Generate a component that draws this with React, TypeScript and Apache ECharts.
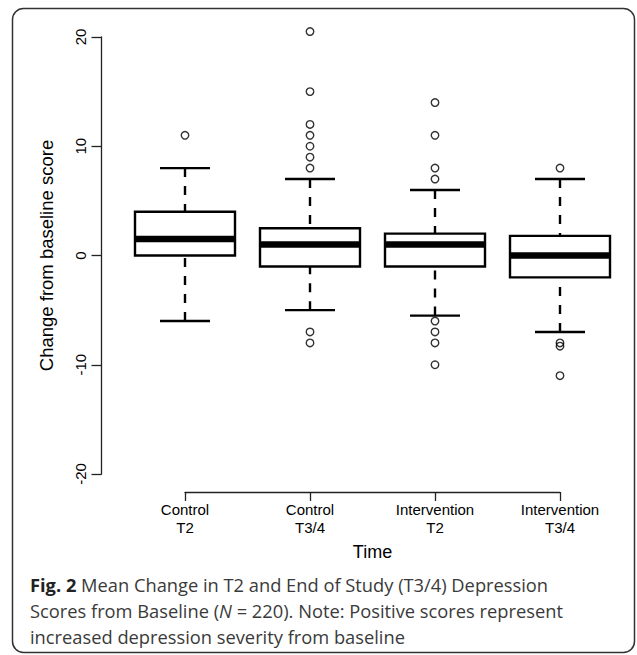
import React, { useEffect, useRef } from "react";
import * as echarts from "echarts";

const categories = ["Control\nT2", "Control\nT3/4", "Intervention\nT2", "Intervention\nT3/4"];
const lowerWhisker = [-6, -5, -5.5, -7];
const q1 = [0, -1, -1, -2];
const median = [1.5, 1, 1, 0];
const q3 = [4, 2.5, 2, 1.8];
const upperWhisker = [8, 7, 6, 7];
const outliers: number[][] = [
  [11],
  [20.5, 15, 12, 11, 10, 9, 8, -7, -8],
  [14, 11, 8, 7, -6, -7, -8, -10],
  [8, -8, -8.3, -11],
];
const yMin = -20;
const yMax = 20;
const yInterval = 10;
const yTitle = "Change from baseline score";
const xTitle = "Time";
const captionLines = [
  "{b|Fig. 2} Mean Change in T2 and End of Study (T3/4) Depression",
  "Scores from Baseline ({i|N} = 220). Note: Positive scores represent",
  "increased depression severity from baseline",
];

const AX_FONT = "'Liberation Sans', Arial, sans-serif";
const CAP_FONT = "'Open Sans', 'Noto Sans', sans-serif";
const CAP_SIZE = 18.3;
const CAP_LH = 25.7;

export default function App() {
  const ref = useRef<HTMLDivElement>(null);
  useEffect(() => {
    if (!ref.current) return;
    const chart = echarts.init(ref.current, undefined, { renderer: "svg" });
    const boxData = categories.map((_, i) => [i, lowerWhisker[i], q1[i], median[i], q3[i], upperWhisker[i]]);
    const outData: number[][] = [];
    outliers.forEach((arr, i) => arr.forEach((v) => outData.push([i, v])));

    const option: any = {
      animation: false,
      backgroundColor: "#fff",
      grid: [
        { left: 122.5, width: 500, top: 37, height: 437 },
        { left: 185, width: 375, top: 400, height: 92 },
      ],
      xAxis: [
        { type: "category", gridIndex: 0, data: categories, show: false, boundaryGap: true },
        {
          type: "category",
          gridIndex: 1,
          data: categories,
          boundaryGap: false,
          axisLine: { show: true, lineStyle: { color: "#222", width: 1.3 } },
          axisTick: { show: true, length: 9, inside: false, lineStyle: { color: "#222", width: 1.3 } },
          axisLabel: {
            interval: 0,
            margin: 8,
            color: "#000",
            fontSize: 15,
            lineHeight: 18,
            fontFamily: AX_FONT,
            align: "center",
          },
          splitLine: { show: false },
          name: xTitle,
          nameLocation: "middle",
          nameGap: 51,
          nameTextStyle: { color: "#000", fontSize: 18, fontFamily: AX_FONT },
        },
      ],
      yAxis: [
        {
          type: "value",
          gridIndex: 0,
          min: yMin,
          max: yMax,
          interval: yInterval,
          offset: 21,
          axisLine: { show: true, lineStyle: { color: "#222", width: 1.3 } },
          axisTick: { show: true, length: 10, lineStyle: { color: "#222", width: 1.3 } },
          axisLabel: {
            rotate: 90,
            margin: 14,
            color: "#000",
            fontSize: 15,
            fontFamily: AX_FONT,
          },
          splitLine: { show: false },
          name: yTitle,
          nameLocation: "middle",
          nameRotate: 90,
          nameGap: 46,
          nameTextStyle: { color: "#000", fontSize: 18.5, fontFamily: AX_FONT },
        },
        { type: "value", gridIndex: 1, show: false },
      ],
      series: [
        {
          type: "custom",
          xAxisIndex: 0,
          yAxisIndex: 0,
          data: boxData,
          encode: { x: 0, y: [1, 2, 3, 4, 5] },
          renderItem: (params: any, api: any) => {
            const i = api.value(0);
            const lo = api.coord([i, api.value(1)]);
            const b1 = api.coord([i, api.value(2)]);
            const md = api.coord([i, api.value(3)]);
            const b3 = api.coord([i, api.value(4)]);
            const hi = api.coord([i, api.value(5)]);
            const bw = api.size([1, 0])[0] * 0.8;
            const x = lo[0];
            const lw = 2.4;
            const dash = { stroke: "#000", lineWidth: lw, lineDash: [9, 9], fill: "none" };
            const solid = { stroke: "#000", lineWidth: lw, fill: "none" };
            return {
              type: "group",
              children: [
                { type: "line", shape: { x1: x, y1: lo[1], x2: x, y2: b1[1] }, style: dash },
                { type: "line", shape: { x1: x, y1: hi[1], x2: x, y2: b3[1] }, style: dash },
                { type: "line", shape: { x1: x - bw / 4, y1: lo[1], x2: x + bw / 4, y2: lo[1] }, style: solid },
                { type: "line", shape: { x1: x - bw / 4, y1: hi[1], x2: x + bw / 4, y2: hi[1] }, style: solid },
                {
                  type: "rect",
                  shape: { x: x - bw / 2, y: b3[1], width: bw, height: b1[1] - b3[1] },
                  style: { fill: "#fff", stroke: "#000", lineWidth: lw },
                },
                {
                  type: "line",
                  shape: { x1: x - bw / 2, y1: md[1], x2: x + bw / 2, y2: md[1] },
                  style: { stroke: "#000", lineWidth: 6.5 },
                },
              ],
            };
          },
        },
        {
          type: "scatter",
          xAxisIndex: 0,
          yAxisIndex: 0,
          data: outData,
          clip: false,
          symbol: "circle",
          symbolSize: 7.5,
          itemStyle: { color: "rgba(0,0,0,0)", borderColor: "#000", borderWidth: 1.4 },
        },
      ],
      graphic: [
        {
          type: "rect",
          shape: { x: 12.5, y: 8.5, width: 622, height: 644, r: 11 },
          style: { fill: "none", stroke: "#333", lineWidth: 1.5 },
        },
        {
          type: "text",
          x: 30,
          y: 572,
          style: {
            text: captionLines.join("\n"),
            fontFamily: CAP_FONT,
            fontSize: CAP_SIZE,
            lineHeight: CAP_LH,
            fill: "#3a3a3a",
            rich: {
              b: { fontFamily: CAP_FONT, fontSize: CAP_SIZE, fontWeight: "bold", fill: "#222", lineHeight: CAP_LH },
              i: { fontFamily: CAP_FONT, fontSize: CAP_SIZE, fontStyle: "italic", fill: "#3a3a3a", lineHeight: CAP_LH },
            },
          },
        },
      ],
    };
    chart.setOption(option);
    return () => chart.dispose();
  }, []);
  return (
    <div
      ref={ref}
      style={{ position: "absolute", left: 0, top: 0, width: 637, height: 655, background: "#fff" }}
    />
  );
}
